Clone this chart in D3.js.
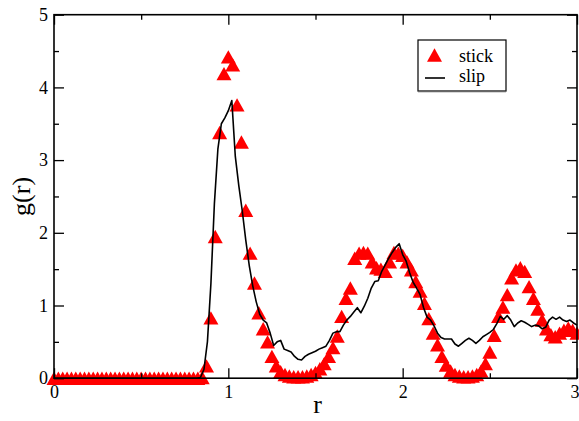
<!DOCTYPE html>
<html>
<head>
<meta charset="utf-8">
<script src="https://cdn.jsdelivr.net/npm/d3@7"></script>
<style>
  html, body { margin: 0; padding: 0; background: #fff; }
  svg { display: block; }
  text { font-family: "Liberation Serif", "DejaVu Serif", serif; fill: #000; }
</style>
</head>
<body>
<svg id="chart" width="579" height="421"></svg>
<script>
// ---- data ----
const stickStep = 0.025;
const stickValues = [
  0,0,0,0,0,0,0,0,0,0, 0,0,0,0,0,0,0,0,0,0,
  0,0,0,0,0,0,0,0,0,0, 0,0,0,0,
  0.01, 0.17, 0.83, 1.95, 3.38, 4.19, 4.42, 4.31, 3.76, 3.25,
  2.31, 1.72, 1.31, 0.90, 0.68, 0.50, 0.30, 0.17, 0.09, 0.05,
  0.03, 0.02, 0.02, 0.02, 0.03, 0.05, 0.08, 0.13, 0.20, 0.30,
  0.42, 0.58, 0.85, 1.10, 1.24, 1.65, 1.72, 1.73, 1.72, 1.60,
  1.52, 1.50, 1.47, 1.60, 1.73, 1.72, 1.69, 1.60, 1.49, 1.33,
  1.20, 1.03, 0.82, 0.62, 0.46, 0.30, 0.18, 0.10, 0.05, 0.03,
  0.02, 0.02, 0.03, 0.05, 0.10, 0.20, 0.36, 0.59, 0.85, 0.98,
  1.15, 1.38, 1.49, 1.52, 1.47, 1.26, 1.10, 0.95, 0.80, 0.68,
  0.60, 0.57, 0.62, 0.66, 0.69, 0.66, 0.62
];
const slipStep = 0.02;
const slipValues = [
  0,0,0,0,0,0,0,0,0,0, 0,0,0,0,0,0,0,0,0,0,
  0,0,0,0,0,0,0,0,0,0, 0,0,0,0,0,0,0,0,0,0,
  0,0,
  0.01, 0.12, 0.50, 1.30, 2.40, 3.15, 3.50, 3.58, 3.68, 3.82,
  3.05, 2.65, 2.30, 1.90, 1.55, 1.27, 1.05, 0.88, 0.80, 0.76,
  0.62, 0.45, 0.50, 0.52, 0.40, 0.38, 0.36, 0.30, 0.26, 0.25,
  0.30, 0.33, 0.35, 0.37, 0.40, 0.42, 0.44, 0.52, 0.62, 0.64,
  0.64, 0.73, 0.80, 0.85, 0.91, 0.97, 0.90, 0.99, 1.10, 1.24,
  1.33, 1.34, 1.47, 1.56, 1.65, 1.73, 1.80, 1.85, 1.70, 1.61,
  1.45, 1.32, 1.24, 1.15, 0.97, 0.84, 0.80, 0.72, 0.62, 0.56,
  0.54, 0.54, 0.54, 0.47, 0.44, 0.48, 0.52, 0.55, 0.52, 0.48,
  0.52, 0.57, 0.60, 0.63, 0.67, 0.75, 0.85, 0.81, 0.86, 0.80,
  0.71, 0.76, 0.79, 0.77, 0.74, 0.71, 0.73, 0.72, 0.68, 0.70,
  0.80, 0.84, 0.81, 0.84, 0.80, 0.78, 0.80, 0.76, 0.73
];
const xMajorTicks = [0, 1, 2, 3];
const xMinorTicks = [0.5, 1.5, 2.5];
const yMajorTicks = [0, 1, 2, 3, 4, 5];
const yMinorTicks = [0.5, 1.5, 2.5, 3.5, 4.5];
const seriesNames = ["stick", "slip"];
const xTitle = "r";
const yTitle = "g(r)";

// ---- layout ----
const L = 54, R = 577, T = 14.7, B = 378.2;
const svg = d3.select("#chart");
const x = d3.scaleLinear().domain([0, 3]).range([L, R]);
const y = d3.scaleLinear().domain([0, 5]).range([B, T]);

const stick = stickValues.map((v, i) => ({ x: +(i * stickStep).toFixed(4), y: v }));
const slip = slipValues.map((v, i) => ({ x: +(i * slipStep).toFixed(4), y: v }));

// triangles
const tri = "M0,-6.7L7.5,6.7L-7.5,6.7Z";
svg.append("g").selectAll("path").data(stick).join("path")
  .attr("d", tri)
  .attr("transform", d => `translate(${x(d.x)},${y(d.y)})`)
  .attr("fill", "#ff0000");

// slip line
svg.append("path").datum(slip)
  .attr("fill", "none").attr("stroke", "#000").attr("stroke-width", 1.6)
  .attr("stroke-linejoin", "round")
  .attr("d", d3.line().x(d => x(d.x)).y(d => y(d.y)));

// axes
function styleAxis(g) {
  g.select(".domain").remove();
  g.selectAll("line").attr("stroke", "#000").attr("stroke-width", 1.3);
  g.selectAll("text").attr("font-size", 18).attr("font-family", "Liberation Serif").attr("fill", "#222");
}
const xAxisG = svg.append("g").attr("transform", `translate(0,${B})`)
  .call(d3.axisBottom(x).tickValues(xMajorTicks).tickSize(-10).tickPadding(7).tickFormat(d3.format("d")))
  .call(styleAxis);
// keep the last label inside the window edge
xAxisG.selectAll(".tick").filter(d => d === 3).select("text")
  .attr("text-anchor", "end").attr("dx", 579 - R);
svg.append("g").attr("transform", `translate(0,${B})`)
  .call(d3.axisBottom(x).tickValues(xMinorTicks).tickSize(-5).tickFormat(""))
  .call(styleAxis);
svg.append("g").attr("transform", `translate(0,${T})`)
  .call(d3.axisTop(x).tickValues(xMajorTicks).tickSize(-10).tickFormat(""))
  .call(styleAxis);
svg.append("g").attr("transform", `translate(0,${T})`)
  .call(d3.axisTop(x).tickValues(xMinorTicks).tickSize(-5).tickFormat(""))
  .call(styleAxis);
svg.append("g").attr("transform", `translate(${L},0)`)
  .call(d3.axisLeft(y).tickValues(yMajorTicks).tickSize(-10).tickPadding(6).tickFormat(d3.format("d")))
  .call(styleAxis);
svg.append("g").attr("transform", `translate(${L},0)`)
  .call(d3.axisLeft(y).tickValues(yMinorTicks).tickSize(-5).tickFormat(""))
  .call(styleAxis);
svg.append("g").attr("transform", `translate(${R},0)`)
  .call(d3.axisRight(y).tickValues(yMajorTicks).tickSize(-10).tickFormat(""))
  .call(styleAxis);
svg.append("g").attr("transform", `translate(${R},0)`)
  .call(d3.axisRight(y).tickValues(yMinorTicks).tickSize(-5).tickFormat(""))
  .call(styleAxis);

// frame
svg.append("rect").attr("x", L).attr("y", T).attr("width", R - L).attr("height", B - T)
  .attr("fill", "none").attr("stroke", "#000").attr("stroke-width", 1.6);

// titles
svg.append("text").attr("x", (L + R) / 2 + 2).attr("y", 413).attr("text-anchor", "middle")
  .attr("font-size", 26).text(xTitle);
svg.append("text").attr("transform", `translate(30,${(T + B) / 2}) rotate(-90)`)
  .attr("text-anchor", "middle").attr("font-size", 26).text(yTitle);

// legend
const lg = svg.append("g");
lg.append("rect").attr("x", 418).attr("y", 40).attr("width", 88).attr("height", 51)
  .attr("fill", "#fff").attr("stroke", "#000").attr("stroke-width", 1.2);
lg.append("line").attr("x1", 418).attr("x2", 506).attr("y1", 91.5).attr("y2", 91.5)
  .attr("stroke", "#666").attr("stroke-width", 1.5);
lg.append("path").attr("d", tri).attr("transform", "translate(434.5,55)").attr("fill", "#ff0000");
lg.append("line").attr("x1", 425).attr("x2", 445).attr("y1", 78).attr("y2", 78)
  .attr("stroke", "#000").attr("stroke-width", 1.6);
lg.append("text").attr("x", 459).attr("y", 61.5).attr("font-size", 18).text(seriesNames[0]);
lg.append("text").attr("x", 459).attr("y", 82).attr("font-size", 18).text(seriesNames[1]);
</script>
</body>
</html>
